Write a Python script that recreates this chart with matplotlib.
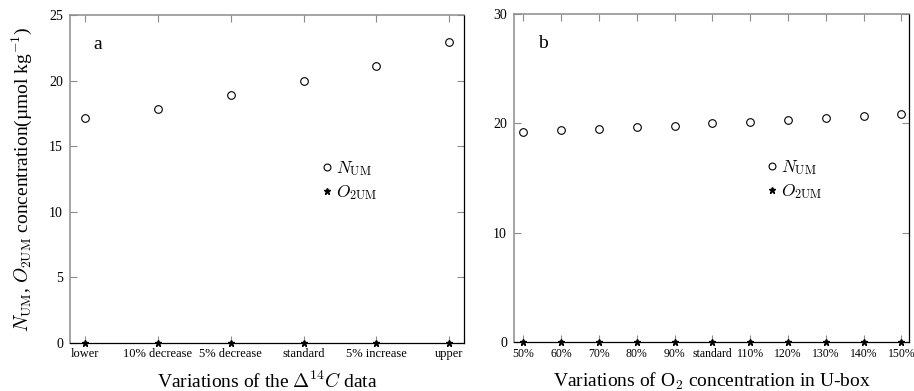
import matplotlib
matplotlib.use("Agg")
import matplotlib.pyplot as plt

plt.rcParams['font.family'] = ['Liberation Serif', 'DejaVu Serif']
plt.rcParams['mathtext.fontset'] = 'cm'

# panel a: variations of the Delta14C data
labels_a = ["lower", "10% decrease", "5% decrease", "standard", "5% increase", "upper"]
n_um_a = [17.15, 17.85, 18.9, 20.0, 21.1, 22.95]
o2_um_a = [0, 0, 0, 0, 0, 0]

# panel b: variations of O2 concentration in U-box
labels_b = ["50%", "60%", "70%", "80%", "90%", "standard", "110%", "120%", "130%", "140%", "150%"]
n_um_b = [19.2, 19.35, 19.5, 19.65, 19.8, 20.0, 20.15, 20.3, 20.5, 20.65, 20.85]
o2_um_b = [0] * 11

GRAY = "#8c8c8c"


def style_axes(ax, xsize):
    ax.tick_params(direction='in', length=5, width=0.8, top=True, right=True,
                   color=GRAY)
    ax.tick_params(axis='x', labelsize=xsize, pad=4)
    ax.tick_params(axis='y', labelsize=10, pad=5)
    for side in ['top', 'left']:
        ax.spines[side].set_color(GRAY)
        ax.spines[side].set_linewidth(1.1)
    for side in ['bottom', 'right']:
        ax.spines[side].set_color('black')
        ax.spines[side].set_linewidth(0.9)


def draw_panel(ax, labels, n_vals, o_vals, ymax, yticks, letter, xsize):
    x = list(range(len(labels)))
    ax.plot(x, n_vals, 'o', ms=5.5, mfc='white', mec='black', mew=0.8, ls='none',
            label=r'$N_{\mathrm{UM}}$', clip_on=False, zorder=3)
    ax.plot(x, o_vals, '*', ms=5, color='black', ls='none',
            label=r'$O_{2\mathrm{UM}}$', clip_on=False, zorder=3)
    ax.set_xticks(x)
    ax.set_xticklabels(labels)
    ax.set_ylim(0, ymax)
    ax.set_yticks(yticks)
    ax.text(0.06, 0.91, letter, transform=ax.transAxes, fontsize=14, va='center')
    ax.legend(loc='upper left', bbox_to_anchor=(0.62, 0.588), frameon=False,
              handlelength=0.5, handletextpad=0.25, labelspacing=0.3,
              fontsize=12.5, borderpad=0, markerscale=0.9)
    style_axes(ax, xsize)


fig = plt.figure(figsize=(9.14, 3.91), dpi=100)
ax1 = fig.add_axes([0.0766, 0.124, 0.4311, 0.8376])
ax2 = fig.add_axes([0.5624, 0.1253, 0.4321, 0.8387])

draw_panel(ax1, labels_a, n_um_a, o2_um_a, 25, [0, 5, 10, 15, 20, 25], "a", 9)
ax1.set_xlim(-0.2, 5.2)
ax1.set_xlabel(r'Variations of the $\Delta^{14}C$ data', fontsize=14, labelpad=8)
ax1.set_ylabel(r'$N_{\mathrm{UM}}$, $O_{2\mathrm{UM}}$ concentration(µmol kg$^{-1}$)',
               fontsize=14, labelpad=11)

draw_panel(ax2, labels_b, n_um_b, o2_um_b, 30, [0, 10, 20, 30], "b", 8.5)
ax2.set_xlim(-0.25, 10.2)
ax2.set_xlabel(r'Variations of O$_2$ concentration in U-box', fontsize=14, labelpad=8)

fig.savefig("out.png", dpi=100)
